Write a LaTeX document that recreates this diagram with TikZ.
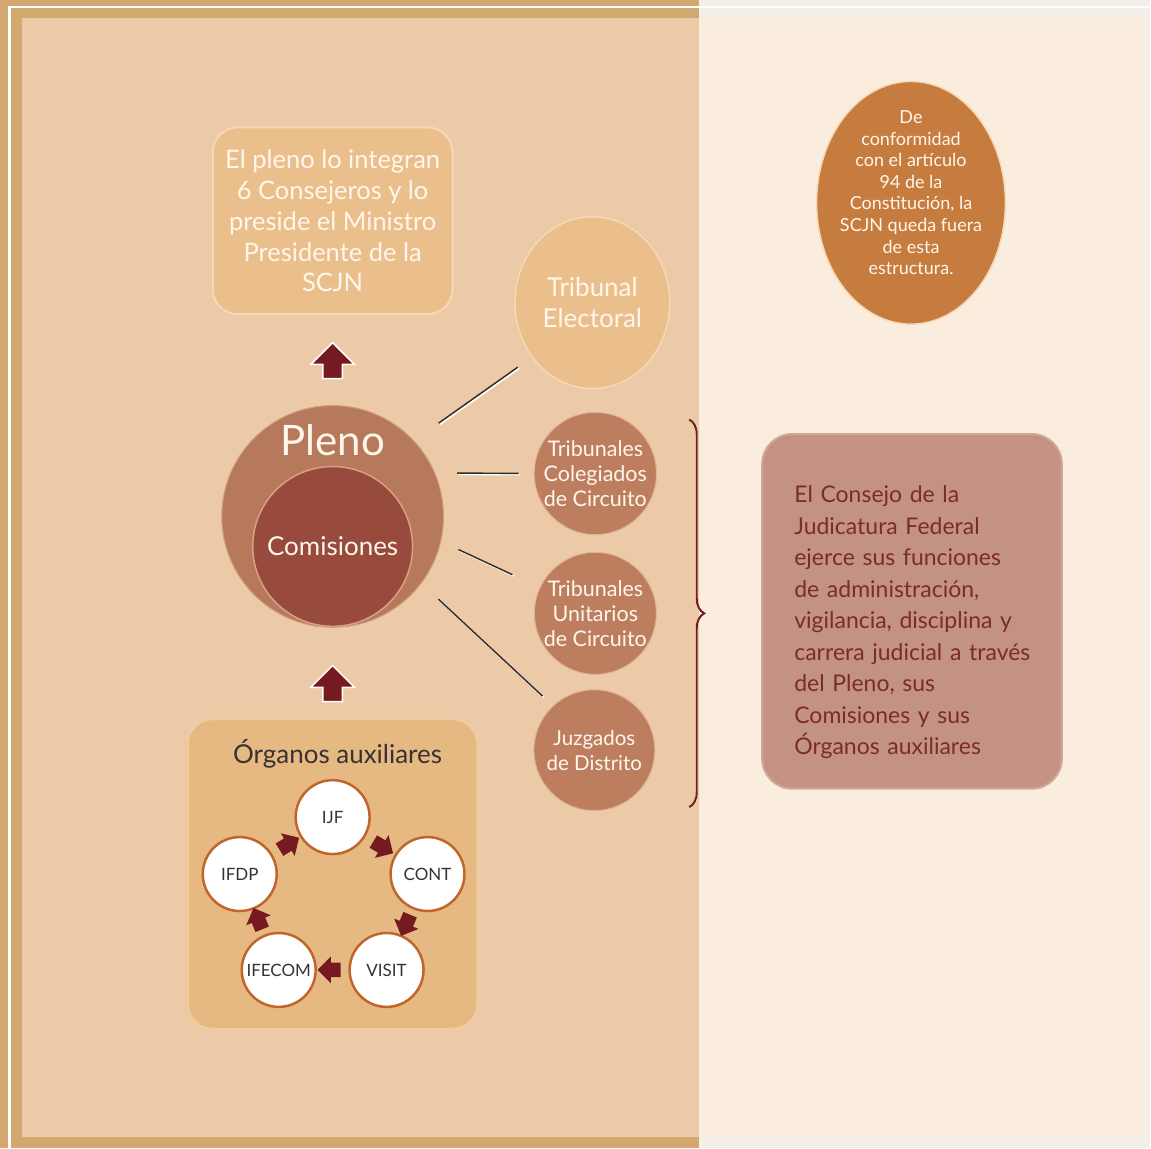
\documentclass[tikz,border=0pt]{standalone}
\usepackage{fontspec}
\setmainfont{Lato}
\usetikzlibrary{shapes.geometric}
\usetikzlibrary{shapes.arrows}
\usetikzlibrary{decorations.pathreplacing}

\definecolor{outertan}{HTML}{D3A770}
\definecolor{outerlight}{HTML}{F4EEE8}
\definecolor{peach}{HTML}{EDCAA7}
\definecolor{cream}{HTML}{FBEDDE}
\definecolor{creamtext}{HTML}{FFF6EC}
\definecolor{softedge}{HTML}{F6D8B6}
\definecolor{boxorange}{HTML}{EBBF8C}
\definecolor{plenobrown}{HTML}{B7795C}
\definecolor{comired}{HTML}{984A3C}
\definecolor{comiedge}{HTML}{D9A086}
\definecolor{courtbrown}{HTML}{BD7E60}
\definecolor{maroon}{HTML}{741A20}
\definecolor{organbox}{HTML}{E6B982}
\definecolor{organedge}{HTML}{F2CC9E}
\definecolor{ringorange}{HTML}{C0652B}
\definecolor{darktext}{HTML}{3A3232}
\definecolor{ovalorange}{HTML}{C67C3E}
\definecolor{rosebox}{HTML}{C39282}
\definecolor{rosetext}{HTML}{7C2B2D}
\definecolor{linegray}{HTML}{2E2A2A}

\newcommand{\setfs}[2]{\fontsize{#1}{#2}\selectfont}

\begin{document}
\begin{tikzpicture}[x=1pt, y=-1pt,
    roundbox/.style={rounded corners=25, line width=2, inner sep=0},
    court/.style={circle, minimum size=121, fill=courtbrown, draw=softedge!60!courtbrown, line width=1, inner sep=0, text=creamtext, align=center, font=\setfs{21.5}{25}},
    organ/.style={circle, minimum size=74, fill=white, draw=ringorange, line width=2.5, inner sep=0, text=darktext, font=\setfs{17}{18}},
    bigarrow/.style={single arrow, fill=maroon, draw=white, line width=1.5, minimum height=36, inner xsep=0, inner ysep=9, single arrow head extend=12, sloped, allow upside down},
    smallarrow/.style={bigarrow, draw=none, minimum height=23, inner ysep=6.5, single arrow head extend=6},
    link/.style={draw=linegray, line width=1.4, preaction={draw=white, line width=1.6, transform canvas={shift={(1.3,1.3)}}}}
]
% page and frame
\fill[outertan] (0,0) rectangle (700,1149);
\fill[outerlight] (700,0) rectangle (1151,1149);
\draw[white, line width=2.5] (9.5,1149) -- (9.5,7) -- (1151,7);
\fill[peach] (22,18) rectangle (700,1138);
\fill[cream] (700,18) rectangle (1143,1138);
\useasboundingbox (0,0) rectangle (1151,1149);

% pleno and comisiones
\node[roundbox, fill=boxorange, draw=softedge, minimum width=240, minimum height=187, text=creamtext, align=center, font=\setfs{25.5}{31}] (pleninfo) at (333,221)
    {El pleno lo integran\\6 Consejeros y lo\\preside el Ministro\\Presidente de la\\SCJN};
\node[circle, minimum size=222, fill=plenobrown, draw=softedge!40!plenobrown, line width=1, inner sep=0] (pleno) at (333,517) {};
\node[text=creamtext, font=\setfs{42}{46}] (plenotxt) at ([yshift=76]pleno.center) {Pleno};
\node[circle, minimum size=160, fill=comired, draw=comiedge, line width=1.5, inner sep=0, text=creamtext, font=\setfs{26}{30}] (comis) at (333,547) {Comisiones};
\path (pleno.north) -- (pleninfo.south) node[bigarrow, pos=0.44] (uparrow) {};

% courts
\node[ellipse, minimum width=155, minimum height=172, fill=boxorange, draw=softedge, line width=1.5, inner sep=0, text=creamtext, align=center, font=\setfs{26}{31}] (electoral) at (593,303) {Tribunal\\Electoral};
\node[court] (colegiados) at (596,474) {Tribunales\\Colegiados\\de Circuito};
\node[court] (unitarios) at (596,614) {Tribunales\\Unitarios\\de Circuito};
\node[court, font=\setfs{20.5}{25}] (juzgados) at (595,751) {Juzgados\\de Distrito};
\draw[link, shorten <=30, shorten >=17] (pleno.43.9) -- (electoral.222.7);
\draw[link, shorten <=22, shorten >=15] (pleno.23.4) -- (colegiados.180);
\draw[link, shorten <=19, shorten >=30] (pleno.-13) -- (unitarios.155);
\draw[link, shorten <=23, shorten >=14] (pleno.-37.8) -- (juzgados.133.7);

% brace and note
\coordinate (bracetop) at (690,420);
\coordinate (bracebot) at (690,808);
\draw[decorate, decoration={brace, amplitude=15}, draw=white, line width=2, xshift=1.5] (bracetop) -- (bracebot);
\draw[decorate, decoration={brace, amplitude=15}, draw=maroon, line width=2] (bracetop) -- (bracebot);
\node[roundbox, rounded corners=30, fill=rosebox, draw=rosebox!80!white, minimum width=300, minimum height=355] (consejo) at (913,612) {};
\node[text=rosetext, text width=262, align=left, inner sep=0, anchor=west, font=\setfs{23}{31.5}] (consejotxt) at ([xshift=33, yshift=-11]consejo.west)
    {El Consejo de la\\Judicatura Federal\\ejerce sus funciones\\de administración,\\vigilancia, disciplina y\\carrera judicial a través\\del Pleno, sus\\Comisiones y sus\\Órganos auxiliares};
\node[ellipse, minimum width=189, minimum height=243, fill=ovalorange, draw=softedge, line width=1.5, inner sep=0] (scjn) at (912,203) {};
\node[text=creamtext, align=center, font=\setfs{18}{21.6}] (scjntxt) at ([yshift=10]scjn.center)
    {De\\conformidad\\con el artículo\\94 de la\\Constitución, la\\SCJN queda fuera\\de esta\\estructura.};

% organos auxiliares
\node[roundbox, fill=organbox, draw=organedge, minimum width=290, minimum height=310] (organos) at (333,875) {};
\node[text=darktext, font=\setfs{26}{30}] (organostxt) at (338,755) {Órganos auxiliares};
\path (organos.north) -- (pleno.south) node[bigarrow, pos=0.33] (downarrow) {};
\node[organ] (ijf) at (333,818) {IJF};
\node[organ] (cont) at (428,875) {CONT};
\node[organ] (visit) at (387,971) {VISIT};
\node[organ] (ifecom) at (279,971) {IFECOM};
\node[organ] (ifdp) at (240,875) {IFDP};
\foreach \a/\b in {ifdp/ijf, ijf/cont, cont/visit, visit/ifecom, ifecom/ifdp}
    \path (\a) -- (\b) node[smallarrow, midway] {};
\end{tikzpicture}
\end{document}
